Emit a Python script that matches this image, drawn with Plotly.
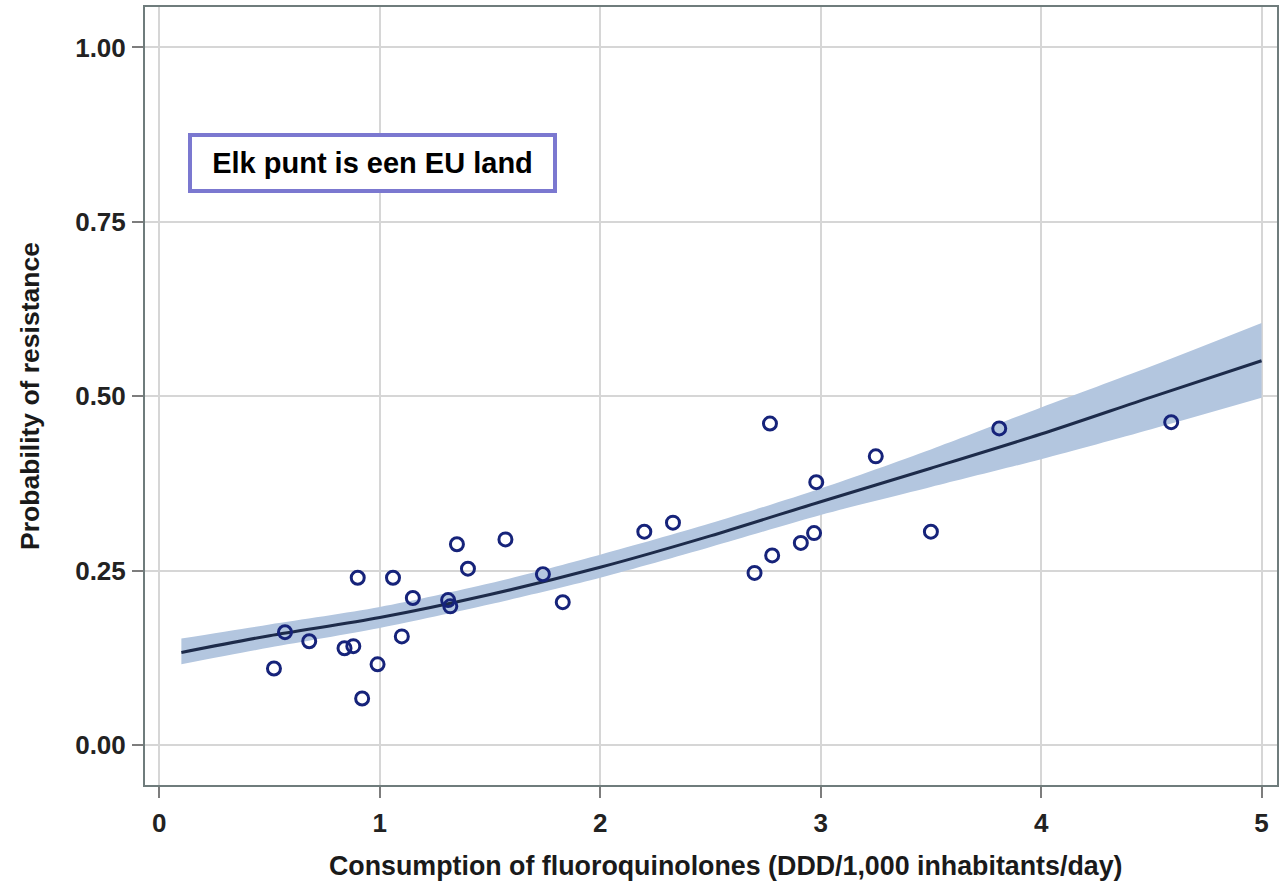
import plotly.graph_objects as go

# Observed data points (one per EU country)
consumption = [0.52, 0.57, 0.68, 0.84, 0.88, 0.90, 0.92, 0.99, 1.06, 1.10,
               1.15, 1.31, 1.32, 1.35, 1.40, 1.57, 1.74, 1.83, 2.20, 2.33,
               2.77, 2.70, 2.78, 2.91, 2.97, 2.98, 3.25, 3.50, 3.81, 4.59]
resistance = [0.110, 0.162, 0.149, 0.139, 0.142, 0.240, 0.067, 0.116, 0.240, 0.156,
              0.211, 0.208, 0.199, 0.288, 0.253, 0.295, 0.245, 0.205, 0.306, 0.319,
              0.461, 0.247, 0.272, 0.290, 0.304, 0.377, 0.414, 0.306, 0.454, 0.463]

# Fitted curve and confidence band
fit_x = [0.1, 0.5, 1.0, 1.5, 2.0, 2.5, 3.0, 3.5, 4.0, 4.5, 5.0]
fit_y = [0.133, 0.157, 0.183, 0.216, 0.255, 0.300, 0.349, 0.397, 0.446, 0.499, 0.551]
band_lo = [0.116, 0.140, 0.168, 0.202, 0.240, 0.284, 0.330, 0.370, 0.410, 0.453, 0.498]
band_hi = [0.153, 0.173, 0.198, 0.232, 0.273, 0.318, 0.368, 0.424, 0.484, 0.543, 0.605]

x_ticks = [0, 1, 2, 3, 4, 5]
y_ticks = [0.0, 0.25, 0.5, 0.75, 1.0]
y_ticklabels = ["0.00", "0.25", "0.50", "0.75", "1.00"]

FONT = "Liberation Sans, Arial, sans-serif"

fig = go.Figure()
fig.add_trace(go.Scatter(x=fit_x, y=band_lo, mode="lines",
                         line=dict(width=0, shape="spline", smoothing=0.8),
                         hoverinfo="skip", showlegend=False))
fig.add_trace(go.Scatter(x=fit_x, y=band_hi, mode="lines",
                         line=dict(width=0, shape="spline", smoothing=0.8),
                         fill="tonexty", fillcolor="#b3c6df", hoverinfo="skip", showlegend=False))
fig.add_trace(go.Scatter(x=fit_x, y=fit_y, mode="lines",
                         line=dict(color="#1d2b4a", width=3, shape="spline", smoothing=0.8),
                         showlegend=False))
fig.add_trace(go.Scatter(x=consumption, y=resistance, mode="markers",
                         marker=dict(symbol="circle-open", size=13, color="#16237a",
                                     line=dict(width=3, color="#16237a")),
                         showlegend=False))

axis_common = dict(
    showgrid=True, gridcolor="#d6d6d6", gridwidth=2,
    showline=True, linecolor="#6f7c7c", linewidth=2, mirror=True,
    ticks="outside", ticklen=11, tickwidth=2, tickcolor="#7d7d7d",
    zeroline=False, automargin=False,
    tickfont=dict(family=FONT, size=26, color="#222222", weight="bold"),
)

fig.update_xaxes(range=[-0.065, 5.07], tickvals=x_ticks, ticklabelstandoff=3,
                 **axis_common)
fig.update_yaxes(range=[-0.057, 1.058], tickvals=y_ticks, ticktext=y_ticklabels,
                 ticklabelstandoff=1,
                 title=dict(text="Probability of resistance",
                            font=dict(family=FONT, size=26.5, color="#1a1a1a", weight="bold"),
                            standoff=28),
                 **axis_common)

# x-axis title (slightly right of centre in the reference)
fig.add_annotation(x=0.513, y=-0.104, xref="paper", yref="paper",
                   xanchor="center", yanchor="middle", showarrow=False,
                   text="<b>Consumption of fluoroquinolones (DDD/1,000 inhabitants/day)</b>",
                   font=dict(family=FONT, size=26.8, color="#1a1a1a"))

fig.add_annotation(x=0.966, y=0.834, xref="x", yref="y",
                   text="<b>Elk punt is een EU land</b>", showarrow=False,
                   font=dict(family=FONT, size=29, color="#000000"),
                   bordercolor="#7b78d0", borderwidth=4, borderpad=4,
                   bgcolor="#ffffff", width=353, height=44)

fig.update_layout(width=1285, height=883, plot_bgcolor="#ffffff", paper_bgcolor="#ffffff",
                  margin=dict(l=145, r=8, t=7, b=98, autoexpand=False))

fig.write_html("out.html", config={"displayModeBar": False},
               post_script="document.body.style.margin='0';")
